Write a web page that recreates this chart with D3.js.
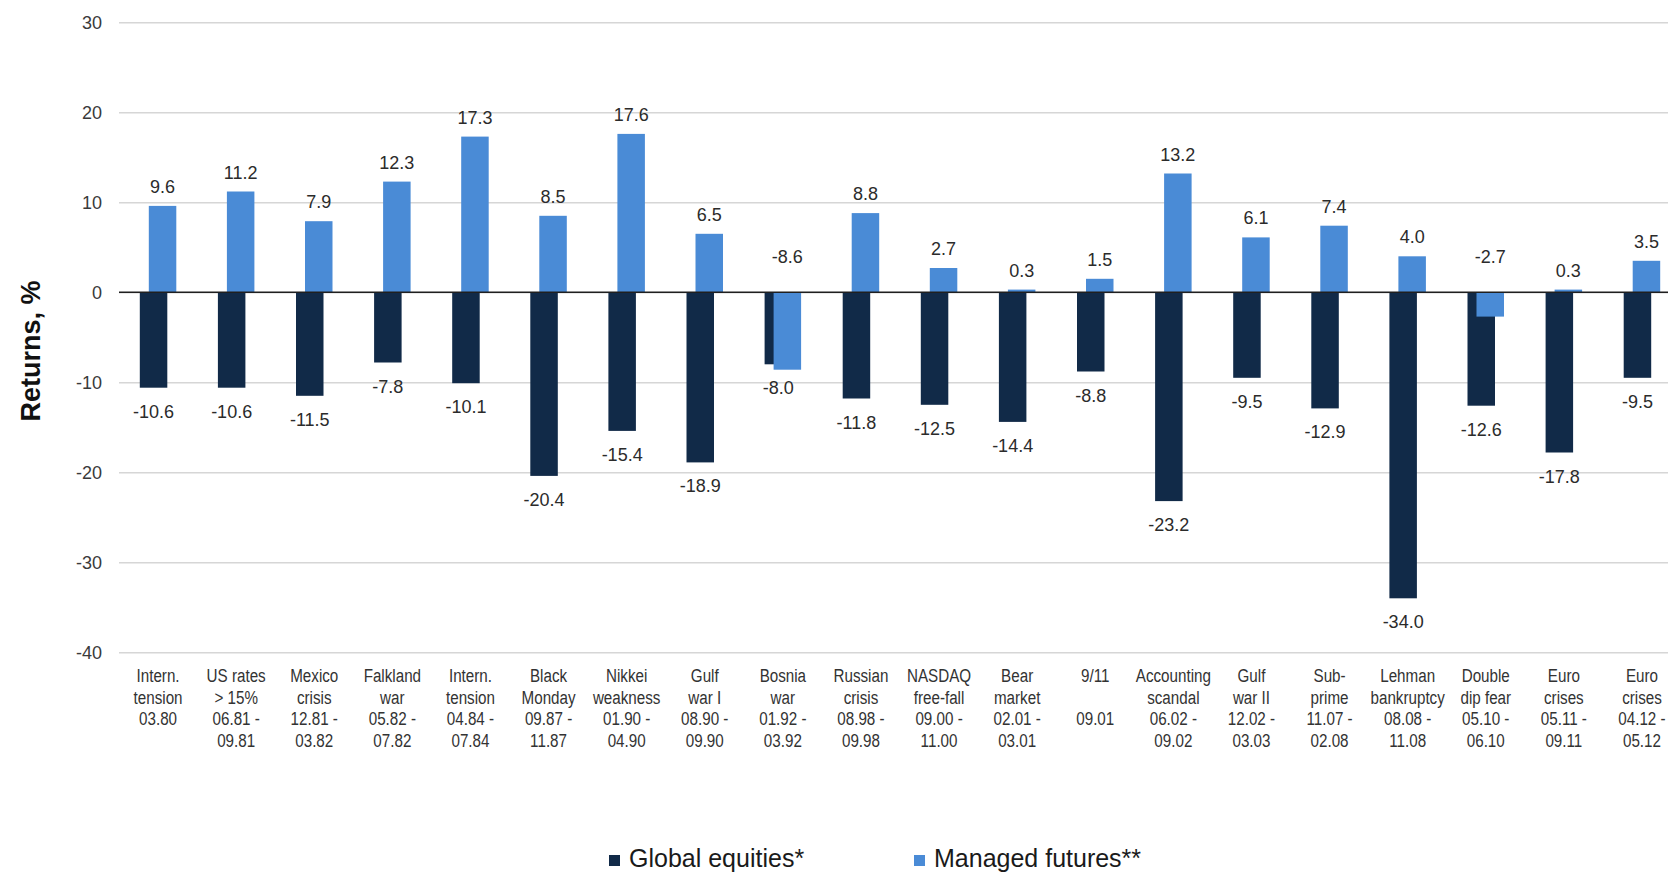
<!DOCTYPE html>
<html>
<head>
<meta charset="utf-8">
<script src="https://cdn.jsdelivr.net/npm/d3@7"></script>
<style>
  html, body { margin: 0; padding: 0; background: #fff; }
  svg { display: block; }
</style>
</head>
<body>
<svg id="chart" width="1668" height="874"></svg>
<script>
// Crisis episodes (label lines, top to bottom)
const categories = [
  ["Intern.", "tension", "03.80"],
  ["US rates", "> 15%", "06.81 -", "09.81"],
  ["Mexico", "crisis", "12.81 -", "03.82"],
  ["Falkland", "war", "05.82 -", "07.82"],
  ["Intern.", "tension", "04.84 -", "07.84"],
  ["Black", "Monday", "09.87 -", "11.87"],
  ["Nikkei", "weakness", "01.90 -", "04.90"],
  ["Gulf", "war I", "08.90 -", "09.90"],
  ["Bosnia", "war", "01.92 -", "03.92"],
  ["Russian", "crisis", "08.98 -", "09.98"],
  ["NASDAQ", "free-fall", "09.00 -", "11.00"],
  ["Bear", "market", "02.01 -", "03.01"],
  ["9/11", "", "09.01"],
  ["Accounting", "scandal", "06.02 -", "09.02"],
  ["Gulf", "war II", "12.02 -", "03.03"],
  ["Sub-", "prime", "11.07 -", "02.08"],
  ["Lehman", "bankruptcy", "08.08 -", "11.08"],
  ["Double", "dip fear", "05.10 -", "06.10"],
  ["Euro", "crises", "05.11 -", "09.11"],
  ["Euro", "crises", "04.12 -", "05.12"]
];

// Returns over each episode, %
const globalEquities = [-10.6, -10.6, -11.5, -7.8, -10.1, -20.4, -15.4, -18.9, -8.0, -11.8,
                        -12.5, -14.4, -8.8, -23.2, -9.5, -12.9, -34.0, -12.6, -17.8, -9.5];
const managedFutures = [9.6, 11.2, 7.9, 12.3, 17.3, 8.5, 17.6, 6.5, -8.6, 8.8,
                        2.7, 0.3, 1.5, 13.2, 6.1, 7.4, 4.0, -2.7, 0.3, 3.5];

const yTicks = [30, 20, 10, 0, -10, -20, -30, -40];
const seriesNames = ["Global equities*", "Managed futures**"];
const seriesColors = ["#112a48", "#4a8bd6"];

const W = 1668, H = 874;
const plotLeft = 119;
const svg = d3.select("#chart");

// Plain hyphen for negative numbers
const locale = d3.formatLocale({ decimal: ".", thousands: ",", grouping: [3], currency: ["", ""], minus: "-" });
const fmtTick = locale.format("d");
const fmtVal = locale.format(".1f");

const x = d3.scaleBand()
  .domain(d3.range(categories.length))
  .range([plotLeft, plotLeft + 78.1 * categories.length]);
const y = d3.scaleLinear().domain([-40, 30]).range([652.3, 22.3]);
const shift = d3.scalePoint().domain([0, 1]).range([-4.5, 4.5]);
const barW = 27.5;
const center = i => x(i) + x.bandwidth() / 2;

const font = "'Liberation Sans', Arial, sans-serif";

// Gridlines and value axis
const yAxis = svg.append("g")
  .attr("transform", `translate(${plotLeft},0)`)
  .call(d3.axisLeft(y).tickValues(yTicks).tickSize(-(W - plotLeft)).tickPadding(17).tickFormat(fmtTick));
yAxis.select(".domain").remove();
yAxis.selectAll(".tick line").attr("stroke", "#d6d6d6").attr("stroke-width", 1.4);
yAxis.selectAll(".tick text")
  .attr("fill", "#3a3a3a")
  .style("font-family", font)
  .style("font-size", "18px");

// Bars
const series = [globalEquities, managedFutures];
series.forEach((vals, s) => {
  svg.append("g").selectAll("rect")
    .data(vals)
    .join("rect")
    .attr("x", (d, i) => center(i) + shift(s) - barW / 2)
    .attr("width", barW)
    .attr("y", d => y(Math.max(0, d)))
    .attr("height", d => Math.abs(y(d) - y(0)))
    .attr("fill", seriesColors[s]);
});

// Zero line
svg.append("line")
  .attr("x1", plotLeft).attr("x2", W)
  .attr("y1", y(0)).attr("y2", y(0))
  .attr("stroke", "#1f1f1f").attr("stroke-width", 1.6);

// Value labels
svg.append("g").selectAll("text")
  .data(globalEquities)
  .join("text")
  .attr("x", (d, i) => center(i) + shift(0))
  .attr("y", d => d < 0 ? y(d) + 30 : y(d) - 13)
  .attr("text-anchor", "middle")
  .attr("fill", "#2b2b2b")
  .style("font-family", font)
  .style("font-size", "18px")
  .text(d => fmtVal(d));

svg.append("g").selectAll("text")
  .data(managedFutures)
  .join("text")
  .attr("x", (d, i) => center(i) + shift(1))
  .attr("y", d => d >= 0 ? y(d) - 13 : y(0) - 29)
  .attr("text-anchor", "middle")
  .attr("fill", "#2b2b2b")
  .style("font-family", font)
  .style("font-size", "18px")
  .text(d => fmtVal(d));

// Episode labels (condensed)
const xAxis = svg.append("g")
  .attr("transform", `translate(0,${y(-40)})`)
  .call(d3.axisBottom(x).tickSize(0).tickFormat(""));
xAxis.select(".domain").remove();
xAxis.selectAll(".tick").each(function(i) {
  const t = d3.select(this).append("text")
    .attr("text-anchor", "middle")
    .attr("transform", "scale(0.8,1)")
    .attr("fill", "#333")
    .style("font-family", font)
    .style("font-size", "19px");
  categories[i].forEach((line, k) => {
    t.append("tspan").attr("x", 0).attr("y", 30 + k * 21.6).text(line);
  });
});

// Axis title
svg.append("text")
  .attr("transform", "translate(31,351) rotate(-90)")
  .attr("text-anchor", "middle")
  .attr("dominant-baseline", "central")
  .attr("fill", "#111")
  .style("font-family", font)
  .style("font-size", "27px")
  .style("font-weight", "bold")
  .text("Returns, %");

// Legend
const legendX = [609, 914];
const legend = svg.append("g");
seriesNames.forEach((name, s) => {
  legend.append("rect")
    .attr("x", legendX[s]).attr("y", 855)
    .attr("width", 11).attr("height", 11)
    .attr("fill", seriesColors[s]);
  legend.append("text")
    .attr("x", legendX[s] + 20).attr("y", 867)
    .attr("fill", "#1a1a1a")
    .style("font-family", font)
    .style("font-size", "25px")
    .text(name);
});
</script>
</body>
</html>
